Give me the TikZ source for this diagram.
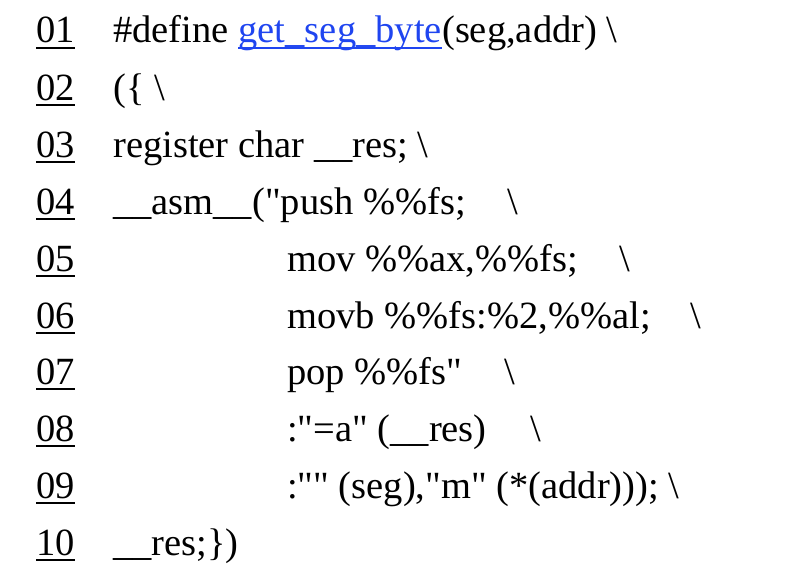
\documentclass[tikz,border=0pt]{standalone}
\usepackage{fontspec}
\setmainfont{Liberation Serif}[Ligatures=TeXOff]
\definecolor{linkblue}{HTML}{1F45F0}
\newcommand{\bs}{\textbackslash}
\begin{document}
\begin{tikzpicture}[x=1pt,y=1pt,
		code/.style={anchor=base west,inner sep=0pt,font=\fontsize{38.5}{42}\selectfont},
		link/.style={code,text=linkblue},
		uline/.style={line width=1.8pt}]
	\useasboundingbox (0,0) rectangle (800,-586);
	% line numbers
	\foreach \n/\y in {01/43,02/100,03/157,04/214,05/271,06/328,07/384,08/441,09/498,10/555}{
		\node[code] (n\n) at (36,-\y) {\n};
		\draw[uline] ([yshift=-5pt]n\n.base west) -- ([yshift=-5pt]n\n.base east);
	}
	% code
	\node[code] (c1) at (113,-43) {\#define};
	\node[link] (g1) at ([xshift=9.6pt]c1.base east) {get\_seg\_byte};
	\draw[uline,linkblue] ([yshift=-5pt]g1.base west) -- ([yshift=-5pt]g1.base east);
	\node[code] (a1) at (g1.base east) {(seg,addr) \bs};
	\node[code] (c2) at (113,-100) {(\{ \bs};
	\node[code] (c3) at (113,-157) {register char \_\_res; \bs};
	\node[code] (c4) at (113,-214) {\_\_asm\_\_("push \%\%fs;};
	\node[code] (c5) at (287,-271) {mov \%\%ax,\%\%fs;};
	\node[code] (c6) at (287,-328) {movb \%\%fs:\%2,\%\%al;};
	\node[code] (c7) at (287,-384) {pop \%\%fs"};
	\node[code] (c8) at (287,-441) {:"=a" (\_\_res)};
	\node[code] (c9) at (287,-498) {:"" (seg),"m" (*(addr))); \bs};
	\node[code] (c10) at (113,-555) {\_\_res;\})};
	% trailing backslashes
	\node[code] (b4) at (507,-214) {\bs};
	\node[code] (b5) at (619,-271) {\bs};
	\node[code] (b6) at (690,-328) {\bs};
	\node[code] (b7) at (504,-384) {\bs};
	\node[code] (b8) at (530,-441) {\bs};
\end{tikzpicture}
\end{document}
